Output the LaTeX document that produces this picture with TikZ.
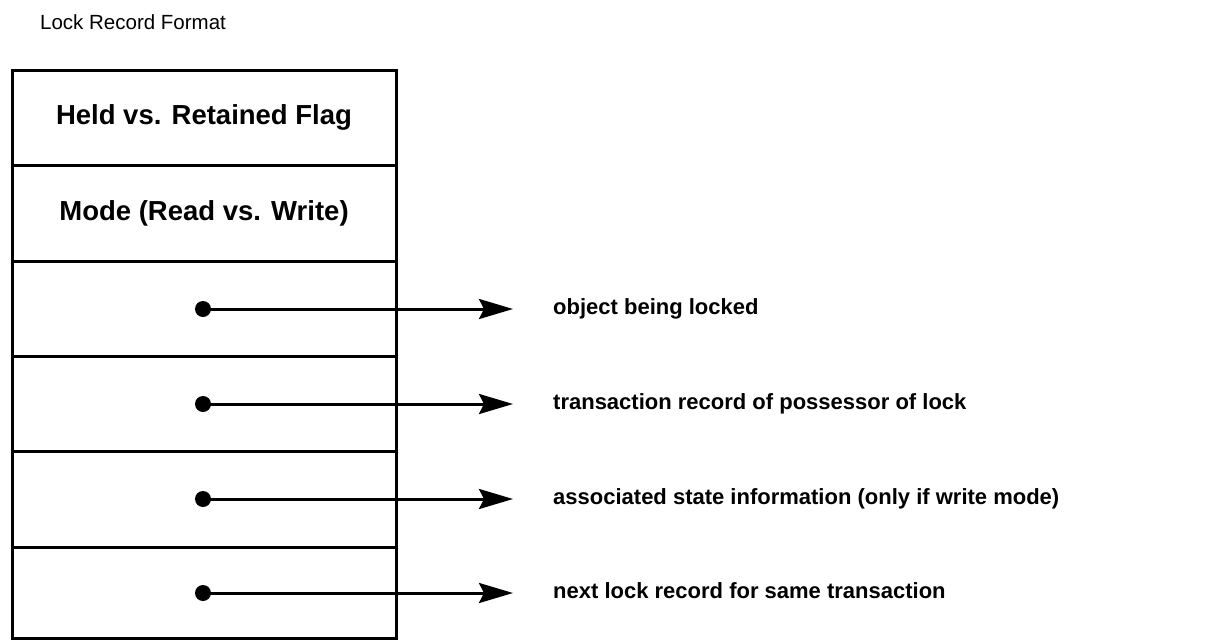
\documentclass[tikz,border=0pt]{standalone}
\usepackage{fontspec}
\setmainfont{Liberation Sans}
\usetikzlibrary{arrows.meta}
\tikzset{
  field/.style={draw, line width=3pt},
  boxlabel/.style={font=\bfseries\fontsize{27.5}{30}\selectfont, inner sep=0pt},
  ptrlabel/.style={font=\bfseries\fontsize{22}{26}\selectfont, inner sep=0pt, anchor=west, text height=16pt, text depth=5pt},
  titlelabel/.style={font=\fontsize{20.5}{24}\selectfont, inner sep=0pt, anchor=west},
  ptrdot/.style={circle, fill=black, inner sep=0pt, minimum size=16pt},
  pointer/.style={line width=3pt, -{Stealth[length=34pt, width=20pt, inset=5pt]}, shorten >=40pt}
}
\begin{document}
\begin{tikzpicture}[x=1pt, y=-1pt]
\useasboundingbox (0,0) rectangle (1217,643);
\node[titlelabel] (title) at (40,22) {Lock Record Format};
% fields
\draw[field] (12,70) rectangle (396,638);
\foreach \yy in {165,261,356,451,547} \draw[line width=3pt] (12,\yy) -- (396,\yy);
\node[boxlabel] (held) at (204,117) {Held vs. Retained Flag};
\node[boxlabel] (mode) at (204,213) {Mode (Read vs. Write)};
% pointers
\node[ptrdot] (d1) at (203,309) {};
\node[ptrdot] (d2) at (203,404) {};
\node[ptrdot] (d3) at (203,499) {};
\node[ptrdot] (d4) at (203,593) {};
\node[ptrlabel] (l1) at (553,309) {object being locked};
\node[ptrlabel] (l2) at (553,404) {transaction record of possessor of lock};
\node[ptrlabel] (l3) at (553,499) {associated state information (only if write mode)};
\node[ptrlabel] (l4) at (553,593) {next lock record for same transaction};
\draw[pointer] (d1.center) -- (l1.west);
\draw[pointer] (d2.center) -- (l2.west);
\draw[pointer] (d3.center) -- (l3.west);
\draw[pointer] (d4.center) -- (l4.west);
\end{tikzpicture}
\end{document}
